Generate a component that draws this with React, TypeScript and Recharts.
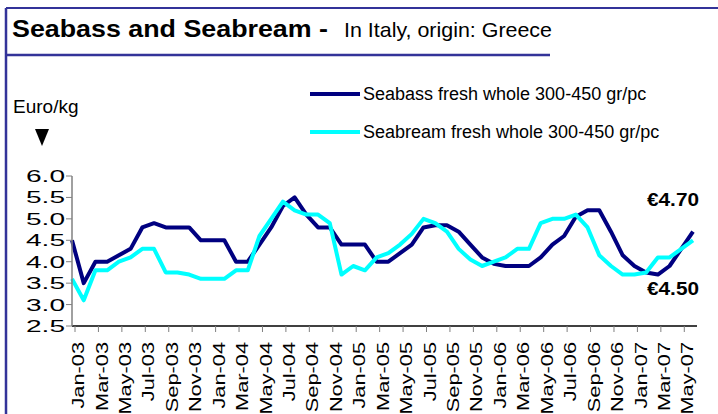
import { LineChart, Line, XAxis, YAxis, Legend } from "recharts";

const FONT = "'Liberation Sans', Arial, sans-serif";

const months = [
  "Jan-03", "Feb-03", "Mar-03", "Apr-03", "May-03", "Jun-03", "Jul-03", "Aug-03", "Sep-03", "Oct-03", "Nov-03", "Dec-03",
  "Jan-04", "Feb-04", "Mar-04", "Apr-04", "May-04", "Jun-04", "Jul-04", "Aug-04", "Sep-04", "Oct-04", "Nov-04", "Dec-04",
  "Jan-05", "Feb-05", "Mar-05", "Apr-05", "May-05", "Jun-05", "Jul-05", "Aug-05", "Sep-05", "Oct-05", "Nov-05", "Dec-05",
  "Jan-06", "Feb-06", "Mar-06", "Apr-06", "May-06", "Jun-06", "Jul-06", "Aug-06", "Sep-06", "Oct-06", "Nov-06", "Dec-06",
  "Jan-07", "Feb-07", "Mar-07", "Apr-07", "May-07", "Jun-07",
];

// Euro/kg
const seabass = [
  4.5, 3.5, 4.0, 4.0, 4.15, 4.3, 4.8, 4.9, 4.8, 4.8, 4.8, 4.5,
  4.5, 4.5, 4.0, 4.0, 4.4, 4.8, 5.3, 5.5, 5.1, 4.8, 4.8, 4.4,
  4.4, 4.4, 4.0, 4.0, 4.2, 4.4, 4.8, 4.85, 4.85, 4.7, 4.4, 4.1,
  3.95, 3.9, 3.9, 3.9, 4.1, 4.4, 4.6, 5.05, 5.2, 5.2, 4.7, 4.15,
  3.9, 3.75, 3.7, 3.9, 4.3, 4.7,
];

const seabream = [
  3.6, 3.1, 3.8, 3.8, 4.0, 4.1, 4.3, 4.3, 3.75, 3.75, 3.7, 3.6,
  3.6, 3.6, 3.8, 3.8, 4.6, 5.0, 5.4, 5.2, 5.1, 5.1, 4.9, 3.7,
  3.9, 3.8, 4.1, 4.2, 4.4, 4.65, 5.0, 4.9, 4.7, 4.3, 4.05, 3.9,
  4.0, 4.1, 4.3, 4.3, 4.9, 5.0, 5.0, 5.1, 4.8, 4.15, 3.9, 3.7,
  3.7, 3.75, 4.1, 4.1, 4.3, 4.5,
];

const yTicks = [2.5, 3.0, 3.5, 4.0, 4.5, 5.0, 5.5, 6.0];
const xTicks = months.map((_, i) => i).filter((i) => i % 2 === 0);

const data = months.map((m, i) => ({ i, month: m, seabass: seabass[i], seabream: seabream[i] }));
const last = data.length - 1;

const XTick = (props: any) => {
  const { x, y, payload } = props;
  return (
    <g>
      <line x1={x + 3} x2={x + 3} y1={y} y2={y + 6} stroke="#808080" strokeWidth={1} />
      <text
        transform={`translate(${x + 6},${y + 16}) rotate(-90) scale(1.28,1)`}
        textAnchor="end"
        dy="0.36em"
        fontSize={17}
        fontFamily={FONT}
        fill="#000"
      >
        {months[payload.value]}
      </text>
    </g>
  );
};

const YTick = (props: any) => {
  const { x, y, payload } = props;
  return (
    <text x={x} y={y} dy="0.36em" textAnchor="end" fontSize={16.5} fontFamily={FONT} fill="#000"
      textLength={39} lengthAdjust="spacingAndGlyphs">
      {Number(payload.value).toFixed(1)}
    </text>
  );
};

const endLabel = (dyOff: number) => (props: any) => {
  const { x, y, value, index } = props;
  if (index !== last) return null;
  return (
    <text x={x + 6} y={y + dyOff} textAnchor="end" fontSize={18} fontWeight="bold" fontFamily={FONT}
      fill="#000" textLength={52} lengthAdjust="spacingAndGlyphs">
      {"€" + Number(value).toFixed(2)}
    </text>
  );
};

const LegendContent = (props: any) => {
  const { payload } = props;
  return (
    <div style={{ fontFamily: FONT, fontSize: 18 }}>
      {(payload || []).map((p: any) => (
        <div key={p.value} style={{ display: "flex", alignItems: "center", height: 38 }}>
          <div style={{ width: 50, height: 4, background: p.color, marginRight: 3 }} />
          <span style={{ color: "#000" }}>{p.value}</span>
        </div>
      ))}
    </div>
  );
};

export default function App() {
  return (
    <div style={{ position: "absolute", left: 0, top: 0, width: 718, height: 414, background: "#fff", overflow: "hidden" }}>
      <LineChart width={718} height={414} data={data} margin={{ top: 176, right: 21, bottom: 8, left: 0 }}>
        <XAxis
          type="number"
          dataKey="i"
          domain={[0, 53]}
          ticks={xTicks}
          interval={0}
          padding={{ left: 0, right: 4 }}
          height={80}
          tickLine={false}
          tickSize={0}
          tickMargin={0}
          axisLine={{ stroke: "#000", strokeWidth: 1.5 }}
          tick={<XTick />}
        />
        <YAxis
          domain={[2.5, 6]}
          ticks={yTicks}
          interval={0}
          width={72}
          tickSize={6}
          tickMargin={1}
          axisLine={{ stroke: "#808080", strokeWidth: 1.5 }}
          tickLine={{ stroke: "#808080" }}
          tick={<YTick />}
        />
        <Legend
          verticalAlign="middle"
          align="center"
          content={<LegendContent />}
          wrapperStyle={{ left: 310, top: 75, width: 400 }}
        />
        <Line
          type="linear"
          dataKey="seabass"
          name="Seabass fresh whole 300-450 gr/pc"
          stroke="#000080"
          strokeWidth={4}
          strokeLinejoin="round"
          dot={false}
          isAnimationActive={false}
          label={endLabel(-26)}
        />
        <Line
          type="linear"
          dataKey="seabream"
          name="Seabream fresh whole 300-450 gr/pc"
          stroke="#00FFFF"
          strokeWidth={4}
          strokeLinejoin="round"
          dot={false}
          isAnimationActive={false}
          label={endLabel(55)}
        />
      </LineChart>
      <svg width={718} height={414} style={{ position: "absolute", left: 0, top: 0, pointerEvents: "none" }}>
        <line x1={6} y1={8} x2={718} y2={8} stroke="#333399" strokeWidth={2} />
        <line x1={6} y1={8} x2={6} y2={414} stroke="#333399" strokeWidth={2.5} />
        <line x1={6} y1={55} x2={550} y2={55} stroke="#333399" strokeWidth={2.5} />
        <text x={12} y={37} fontSize={24} fontWeight="bold" fontFamily={FONT} fill="#000"
          textLength={316} lengthAdjust="spacingAndGlyphs">
          Seabass and Seabream -
        </text>
        <text x={344} y={37} fontSize={21} fontFamily={FONT} fill="#000"
          textLength={208} lengthAdjust="spacingAndGlyphs">
          In Italy, origin: Greece
        </text>
        <text x={13} y={113} fontSize={19} fontFamily={FONT} fill="#000">Euro/kg</text>
        <polygon points="35,129 49,129 42,146" fill="#000" />
      </svg>
    </div>
  );
}
